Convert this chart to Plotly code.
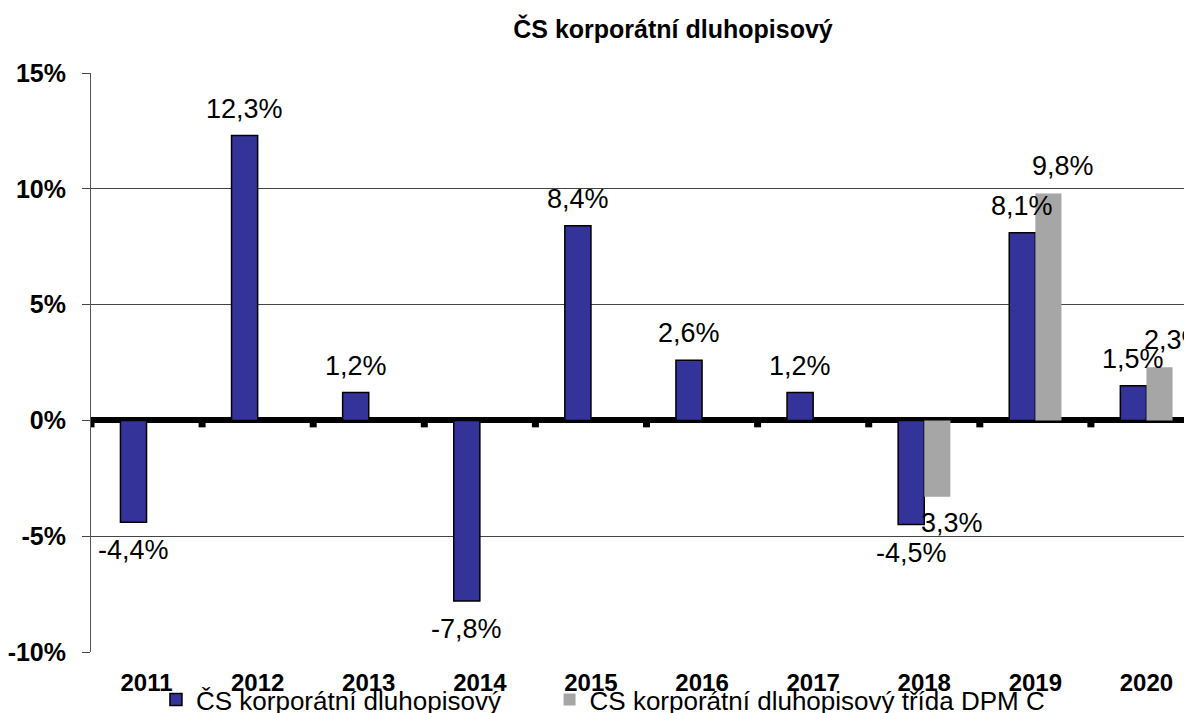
import plotly.graph_objects as go

categories = ["2011", "2012", "2013", "2014", "2015", "2016", "2017", "2018", "2019", "2020"]
fund_values = [-4.4, 12.3, 1.2, -7.8, 8.4, 2.6, 1.2, -4.5, 8.1, 1.5]
classc_values = [None, None, None, None, None, None, None, -3.3, 9.8, 2.3]
fund_labels = ["-4,4%", "12,3%", "1,2%", "-7,8%", "8,4%", "2,6%", "1,2%", "-4,5%", "8,1%", "1,5%"]
classc_labels = [None, None, None, None, None, None, None, "3,3%", "9,8%", "2,3%"]
series_names = ["ČS korporátní dluhopisový", "CS korporátní dluhopisový třída DPM C"]
title_text = "ČS korporátní dluhopisový"
y_ticks = [-10, -5, 0, 5, 10, 15]
y_ticktext = ["-10%", "-5%", "0%", "5%", "10%", "15%"]

FONT = "Liberation Sans, Arial, sans-serif"
BLUE = "#333399"
GRAY = "#a6a6a6"
BARGAP = 0.53
half_bar = (1 - BARGAP) / 4  # half width of one bar in category units

W, H = 1184, 705  # page body keeps an 8px margin inside the 1192x713 window

fig = go.Figure()
fig.add_trace(go.Bar(x=categories, y=fund_values, name=series_names[0], legend="legend",
                     marker=dict(color=BLUE, line=dict(color="black", width=1.5))))
fig.add_trace(go.Bar(x=categories, y=classc_values, name=series_names[1], legend="legend2",
                     marker=dict(color=GRAY, line=dict(width=0))))

annotations = []
for i, (v, t) in enumerate(zip(fund_values, fund_labels)):
    annotations.append(dict(x=i - half_bar, y=v, text=t, showarrow=False,
                            yshift=27 if v >= 0 else -28, yanchor="middle",
                            font=dict(family=FONT, size=27, color="black")))
for i, (v, t) in enumerate(zip(classc_values, classc_labels)):
    if v is None:
        continue
    annotations.append(dict(x=i + half_bar, y=v, text=t, showarrow=False,
                            xshift=15, yshift=27 if v >= 0 else -26, yanchor="middle",
                            font=dict(family=FONT, size=27, color="black")))

shapes = []
for i in range(len(categories) + 1):
    shapes.append(dict(type="line", xref="x", yref="y", x0=i - 0.5, x1=i - 0.5,
                       y0=0, y1=-0.3, line=dict(color="black", width=7), layer="above"))

legend_common = dict(orientation="h", yanchor="middle", y=-0.082,
                     font=dict(family=FONT, size=26, color="black"),
                     bgcolor="rgba(0,0,0,0)", itemclick=False, itemdoubleclick=False)

fig.update_layout(
    width=W, height=H,
    paper_bgcolor="white", plot_bgcolor="white",
    margin=dict(l=83, r=0, t=65, b=61, autoexpand=False),
    barmode="group", bargap=BARGAP, bargroupgap=0,
    font=dict(family=FONT, color="black"),
    title=dict(text="<b>" + title_text + "</b>", x=665 / W, xref="container", xanchor="center",
               y=1 - 21 / H, yref="container", yanchor="middle",
               font=dict(family=FONT, size=25, color="black")),
    xaxis=dict(type="category", range=[-0.5, 9.41], showgrid=False, ticks="",
               tickfont=dict(family=FONT, size=24, color="black"), automargin=False,
               ticklabelstandoff=14, showline=False, zeroline=False,
               tickvals=categories, ticktext=["<b>" + c + "</b>" for c in categories]),
    yaxis=dict(range=[-10, 15], tickvals=y_ticks, ticktext=["<b>" + t + "</b>" for t in y_ticktext],
               tickfont=dict(family=FONT, size=25, color="black"), automargin=False,
               showgrid=True, gridcolor="#444444", gridwidth=1,
               zeroline=True, zerolinecolor="black", zerolinewidth=6,
               ticks="outside", ticklen=8, tickcolor="#444444", ticklabelstandoff=11,
               showline=True, linecolor="#555555", linewidth=1),
    legend=dict(x=0.059, xanchor="left", **legend_common),
    legend2=dict(x=0.4165, xanchor="left", **legend_common),
    annotations=annotations,
    shapes=shapes,
    showlegend=True,
)

fig.write_html("out.html")
